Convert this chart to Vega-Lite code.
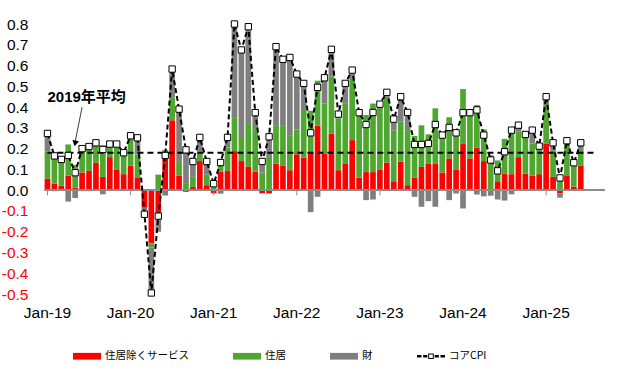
{
  "$schema": "https://vega.github.io/schema/vega-lite/v6.json",
  "width": 561,
  "height": 270,
  "autosize": {"type": "none"},
  "padding": {"left": 44, "top": 24, "right": 36, "bottom": 78},
  "background": "white",
  "config": {
    "view": {"stroke": null},
    "font": "'Liberation Sans', 'Noto Sans CJK JP'",
    "axis": {"grid": false, "labelOverlap": false}
  },
  "datasets": {
    "main": [
      {"m": "2019-01", "svc": 0.056, "housing": 0.13, "goods": 0.085, "core": 0.273},
      {"m": "2019-02", "svc": 0.032, "housing": 0.14, "goods": -0.005, "core": 0.165},
      {"m": "2019-03", "svc": 0.022, "housing": 0.125, "goods": 0.0, "core": 0.148},
      {"m": "2019-04", "svc": 0.07, "housing": 0.15, "goods": -0.055, "core": 0.167},
      {"m": "2019-05", "svc": 0.012, "housing": 0.11, "goods": -0.038, "core": 0.084},
      {"m": "2019-06", "svc": 0.085, "housing": 0.122, "goods": -0.005, "core": 0.2},
      {"m": "2019-07", "svc": 0.093, "housing": 0.125, "goods": -0.005, "core": 0.21},
      {"m": "2019-08", "svc": 0.132, "housing": 0.1, "goods": 0.0, "core": 0.228},
      {"m": "2019-09", "svc": 0.064, "housing": 0.152, "goods": -0.02, "core": 0.196},
      {"m": "2019-10", "svc": 0.159, "housing": 0.053, "goods": 0.01, "core": 0.222},
      {"m": "2019-11", "svc": 0.1, "housing": 0.109, "goods": 0.013, "core": 0.222},
      {"m": "2019-12", "svc": 0.077, "housing": 0.1, "goods": 0.0, "core": 0.18},
      {"m": "2020-01", "svc": 0.117, "housing": 0.132, "goods": 0.013, "core": 0.262},
      {"m": "2020-02", "svc": 0.062, "housing": 0.11, "goods": 0.08, "core": 0.252},
      {"m": "2020-03", "svc": -0.085, "housing": 0.005, "goods": -0.035, "core": -0.116},
      {"m": "2020-04", "svc": -0.257, "housing": -0.019, "goods": -0.214, "core": -0.495},
      {"m": "2020-05", "svc": -0.112, "housing": 0.075, "goods": -0.088, "core": -0.125},
      {"m": "2020-06", "svc": 0.153, "housing": 0.04, "goods": -0.026, "core": 0.167},
      {"m": "2020-07", "svc": 0.337, "housing": 0.108, "goods": 0.138, "core": 0.583},
      {"m": "2020-08", "svc": 0.069, "housing": 0.067, "goods": 0.254, "core": 0.39},
      {"m": "2020-09", "svc": -0.008, "housing": 0.03, "goods": 0.172, "core": 0.194},
      {"m": "2020-10", "svc": 0.016, "housing": 0.048, "goods": 0.074, "core": 0.138},
      {"m": "2020-11", "svc": 0.14, "housing": 0.045, "goods": 0.069, "core": 0.254},
      {"m": "2020-12", "svc": 0.024, "housing": 0.05, "goods": 0.064, "core": 0.138},
      {"m": "2021-01", "svc": -0.015, "housing": 0.025, "goods": 0.021, "core": 0.031},
      {"m": "2021-02", "svc": 0.09, "housing": 0.06, "goods": -0.017, "core": 0.133},
      {"m": "2021-03", "svc": 0.092, "housing": 0.114, "goods": 0.048, "core": 0.254},
      {"m": "2021-04", "svc": 0.188, "housing": 0.16, "goods": 0.452, "core": 0.8},
      {"m": "2021-05", "svc": 0.14, "housing": 0.116, "goods": 0.419, "core": 0.675},
      {"m": "2021-06", "svc": 0.112, "housing": 0.207, "goods": 0.468, "core": 0.787},
      {"m": "2021-07", "svc": 0.09, "housing": 0.2, "goods": 0.083, "core": 0.373},
      {"m": "2021-08", "svc": -0.015, "housing": 0.085, "goods": 0.068, "core": 0.138},
      {"m": "2021-09", "svc": -0.016, "housing": 0.16, "goods": 0.113, "core": 0.257},
      {"m": "2021-10", "svc": 0.127, "housing": 0.186, "goods": 0.378, "core": 0.691},
      {"m": "2021-11", "svc": 0.117, "housing": 0.196, "goods": 0.317, "core": 0.63},
      {"m": "2021-12", "svc": 0.096, "housing": 0.169, "goods": 0.374, "core": 0.639},
      {"m": "2022-01", "svc": 0.173, "housing": 0.119, "goods": 0.267, "core": 0.559},
      {"m": "2022-02", "svc": 0.156, "housing": 0.23, "goods": 0.128, "core": 0.514},
      {"m": "2022-03", "svc": 0.177, "housing": 0.205, "goods": -0.106, "core": 0.276},
      {"m": "2022-04", "svc": 0.31, "housing": 0.217, "goods": -0.032, "core": 0.495},
      {"m": "2022-05", "svc": 0.177, "housing": 0.241, "goods": 0.124, "core": 0.541},
      {"m": "2022-06", "svc": 0.273, "housing": 0.273, "goods": 0.132, "core": 0.678},
      {"m": "2022-07", "svc": 0.096, "housing": 0.25, "goods": 0.02, "core": 0.366},
      {"m": "2022-08", "svc": 0.129, "housing": 0.29, "goods": 0.096, "core": 0.514},
      {"m": "2022-09", "svc": 0.241, "housing": 0.305, "goods": 0.032, "core": 0.578},
      {"m": "2022-10", "svc": 0.06, "housing": 0.313, "goods": 0.0, "core": 0.373},
      {"m": "2022-11", "svc": 0.087, "housing": 0.275, "goods": -0.048, "core": 0.316},
      {"m": "2022-12", "svc": 0.087, "housing": 0.33, "goods": -0.045, "core": 0.374},
      {"m": "2023-01", "svc": 0.1, "housing": 0.315, "goods": 0.0, "core": 0.414},
      {"m": "2023-02", "svc": 0.133, "housing": 0.316, "goods": 0.02, "core": 0.471},
      {"m": "2023-03", "svc": 0.043, "housing": 0.243, "goods": 0.056, "core": 0.342},
      {"m": "2023-04", "svc": 0.137, "housing": 0.193, "goods": 0.12, "core": 0.45},
      {"m": "2023-05", "svc": 0.024, "housing": 0.265, "goods": 0.085, "core": 0.374},
      {"m": "2023-06", "svc": 0.061, "housing": 0.2, "goods": -0.032, "core": 0.22},
      {"m": "2023-07", "svc": 0.112, "housing": 0.2, "goods": -0.08, "core": 0.22},
      {"m": "2023-08", "svc": 0.129, "housing": 0.14, "goods": -0.053, "core": 0.225},
      {"m": "2023-09", "svc": 0.129, "housing": 0.265, "goods": -0.08, "core": 0.316},
      {"m": "2023-10", "svc": 0.085, "housing": 0.18, "goods": 0.0, "core": 0.265},
      {"m": "2023-11", "svc": 0.153, "housing": 0.198, "goods": -0.048, "core": 0.302},
      {"m": "2023-12", "svc": 0.1, "housing": 0.19, "goods": -0.016, "core": 0.276},
      {"m": "2024-01", "svc": 0.222, "housing": 0.265, "goods": -0.088, "core": 0.373},
      {"m": "2024-02", "svc": 0.153, "housing": 0.204, "goods": 0.016, "core": 0.373},
      {"m": "2024-03", "svc": 0.204, "housing": 0.206, "goods": -0.021, "core": 0.386},
      {"m": "2024-04", "svc": 0.14, "housing": 0.153, "goods": -0.03, "core": 0.265},
      {"m": "2024-05", "svc": 0.003, "housing": 0.165, "goods": -0.027, "core": 0.145},
      {"m": "2024-06", "svc": 0.043, "housing": 0.1, "goods": -0.045, "core": 0.093},
      {"m": "2024-07", "svc": 0.08, "housing": 0.167, "goods": -0.05, "core": 0.185},
      {"m": "2024-08", "svc": 0.077, "housing": 0.22, "goods": -0.02, "core": 0.289},
      {"m": "2024-09", "svc": 0.159, "housing": 0.122, "goods": 0.032, "core": 0.313},
      {"m": "2024-10", "svc": 0.08, "housing": 0.188, "goods": 0.0, "core": 0.268},
      {"m": "2024-11", "svc": 0.069, "housing": 0.156, "goods": 0.064, "core": 0.289},
      {"m": "2024-12", "svc": 0.077, "housing": 0.135, "goods": 0.0, "core": 0.212},
      {"m": "2025-01", "svc": 0.225, "housing": 0.185, "goods": 0.04, "core": 0.45},
      {"m": "2025-02", "svc": 0.064, "housing": 0.128, "goods": 0.035, "core": 0.228},
      {"m": "2025-03", "svc": -0.016, "housing": 0.05, "goods": -0.02, "core": 0.059},
      {"m": "2025-04", "svc": 0.068, "housing": 0.157, "goods": 0.013, "core": 0.238},
      {"m": "2025-05", "svc": 0.017, "housing": 0.111, "goods": 0.0, "core": 0.132},
      {"m": "2025-06", "svc": 0.117, "housing": 0.076, "goods": 0.035, "core": 0.228}
    ],
    "avg": [
      {"m": "2019-01", "avg": 0.18},
      {"m": "2025-08", "avg": 0.18}
    ],
    "jan": [
      {"m": "2019-01"}, {"m": "2020-01"}, {"m": "2021-01"}, {"m": "2022-01"},
      {"m": "2023-01"}, {"m": "2024-01"}, {"m": "2025-01"}
    ],
    "note": [
      {"m": "2019-01", "y": 0.45, "label": "2019年平均"}
    ],
    "arrow": [
      {"m": "2019-06", "y": 0.40},
      {"m": "2019-05", "y": 0.232}
    ],
    "head": [
      {"m": "2019-05", "y": 0.225}
    ]
  },
  "layer": [
    {
      "data": {"name": "main"},
      "transform": [
        {"fold": ["svc", "housing", "goods"], "as": ["k", "v"]},
        {"calculate": "indexof(['svc','housing','goods'], datum.k)", "as": "ord"}
      ],
      "mark": {"type": "bar"},
      "encoding": {
        "x": {
          "field": "m",
          "type": "ordinal",
          "title": null,
          "scale": {
            "paddingInner": 0.18,
            "paddingOuter": 0.09,
            "domain": [
              "2019-01","2019-02","2019-03","2019-04","2019-05","2019-06","2019-07","2019-08","2019-09","2019-10","2019-11","2019-12",
              "2020-01","2020-02","2020-03","2020-04","2020-05","2020-06","2020-07","2020-08","2020-09","2020-10","2020-11","2020-12",
              "2021-01","2021-02","2021-03","2021-04","2021-05","2021-06","2021-07","2021-08","2021-09","2021-10","2021-11","2021-12",
              "2022-01","2022-02","2022-03","2022-04","2022-05","2022-06","2022-07","2022-08","2022-09","2022-10","2022-11","2022-12",
              "2023-01","2023-02","2023-03","2023-04","2023-05","2023-06","2023-07","2023-08","2023-09","2023-10","2023-11","2023-12",
              "2024-01","2024-02","2024-03","2024-04","2024-05","2024-06","2024-07","2024-08","2024-09","2024-10","2024-11","2024-12",
              "2025-01","2025-02","2025-03","2025-04","2025-05","2025-06","2025-07","2025-08","2025-09"
            ]
          },
          "axis": {
            "values": ["2019-01","2020-01","2021-01","2022-01","2023-01","2024-01","2025-01"],
            "labelExpr": "'Jan-' + slice(datum.value, 2, 4)",
            "labelAngle": 0,
            "domain": false,
            "ticks": false,
            "tickSize": 0,
            "labelPadding": 11,
            "labelFontSize": 15.5,
            "labelFont": "Liberation Sans",
            "labelColor": "#000000",
            "labelOverlap": false
          }
        },
        "y": {
          "field": "v",
          "type": "quantitative",
          "stack": "zero",
          "title": null,
          "scale": {"domain": [-0.5, 0.8], "nice": false, "zero": false},
          "axis": {
            "values": [-0.5, -0.4, -0.3, -0.2, -0.1, 0, 0.1, 0.2, 0.3, 0.4, 0.5, 0.6, 0.7, 0.8],
            "tickCount": 30,
            "labelExpr": "replace(format(datum.value, '.1f'), '\u2212', '-')",
            "domain": false,
            "ticks": false,
            "tickSize": 0,
            "labelPadding": 16,
            "labelFontSize": 15.5,
            "labelFont": "Liberation Sans",
            "labelOverlap": false,
            "labelBound": false,
            "labelFlush": false,
            "labelColor": {"condition": {"test": "datum.value < 0", "value": "#ff0000"}, "value": "#000000"}
          }
        },
        "color": {
          "field": "k",
          "type": "nominal",
          "scale": {
            "domain": ["svc", "housing", "goods", "core"],
            "range": ["#ff0000", "#4ea72e", "#7f7f7f", "#000000"]
          },
          "legend": {
            "title": null,
            "orient": "none",
            "legendX": 29,
            "legendY": 318,
            "direction": "horizontal",
            "padding": 0,
            "columnPadding": 44,
            "labelOffset": 4,
            "labelFontSize": 10.5,
            "labelFont": "Noto Sans CJK JP",
            "labelColor": "#000000",
            "symbolSize": 784,
            "labelExpr": "datum.value === 'svc' ? '住居除くサービス' : datum.value === 'housing' ? '住居' : datum.value === 'goods' ? '財' : 'コアCPI'",
            "encode": {
              "symbols": {
                "update": {
                  "shape": {"signal": "datum.value === 'core' ? 'M-1,-0.09H-0.68V0.09H-1Z M-0.56,-0.09H-0.26V0.09H-0.56Z M0.26,-0.09H0.56V0.09H0.26Z M0.68,-0.09H1V0.09H0.68Z M-0.2,-0.2H0.2V0.2H-0.2Z M-0.13,-0.13V0.13H0.13V-0.13Z' : 'M-1,-0.24H1V0.24H-1Z'"},
                  "fill": {"signal": "scale('color', datum.value)"},
                  "strokeWidth": {"value": 0},
                  "opacity": {"value": 1},
                  "strokeDash": {"value": []}
                }
              }
            }
          }
        },
        "order": {"field": "ord", "type": "quantitative"}
      }
    },
    {
      "data": {"name": "main"},
      "mark": {"type": "rule", "color": "#8c8c8c", "strokeWidth": 1},
      "encoding": {"y": {"datum": 0, "type": "quantitative"}}
    },
    {
      "data": {"name": "jan"},
      "mark": {"type": "rule", "color": "#8c8c8c", "strokeWidth": 1},
      "encoding": {
        "x": {"field": "m", "type": "ordinal", "title": null},
        "y": {"datum": 0, "type": "quantitative"},
        "y2": {"datum": -0.025}
      }
    },
    {
      "data": {"name": "avg"},
      "mark": {"type": "line", "color": "#000000", "strokeWidth": 2, "strokeDash": [6, 4]},
      "encoding": {
        "x": {"field": "m", "type": "ordinal", "title": null},
        "y": {"field": "avg", "type": "quantitative", "title": null}
      }
    },
    {
      "data": {"name": "main"},
      "mark": {"type": "line", "strokeWidth": 2, "strokeDash": [5, 3]},
      "encoding": {
        "x": {"field": "m", "type": "ordinal", "title": null},
        "y": {"field": "core", "type": "quantitative", "title": null},
        "color": {"datum": "core"}
      }
    },
    {
      "data": {"name": "main"},
      "mark": {"type": "point", "shape": "square", "filled": true, "fill": "#ffffff", "stroke": "#000000", "strokeWidth": 1, "size": 40, "opacity": 1},
      "encoding": {
        "x": {"field": "m", "type": "ordinal", "title": null},
        "y": {"field": "core", "type": "quantitative", "title": null}
      }
    },
    {
      "data": {"name": "arrow"},
      "mark": {"type": "line", "color": "#404040", "strokeWidth": 1},
      "encoding": {
        "x": {"field": "m", "type": "ordinal", "title": null, "sort": null},
        "y": {"field": "y", "type": "quantitative", "title": null}
      }
    },
    {
      "data": {"name": "head"},
      "mark": {"type": "point", "shape": "triangle-down", "filled": true, "color": "#000000", "size": 45, "angle": 11, "opacity": 1},
      "encoding": {
        "x": {"field": "m", "type": "ordinal", "title": null},
        "y": {"field": "y", "type": "quantitative", "title": null}
      }
    },
    {
      "data": {"name": "note"},
      "mark": {"type": "text", "align": "left", "baseline": "middle", "fontSize": 15, "fontWeight": "bold", "font": "'Liberation Sans', 'Noto Sans CJK JP'", "color": "#000000"},
      "encoding": {
        "x": {"field": "m", "type": "ordinal", "title": null},
        "y": {"field": "y", "type": "quantitative", "title": null},
        "text": {"field": "label"}
      }
    }
  ]
}
